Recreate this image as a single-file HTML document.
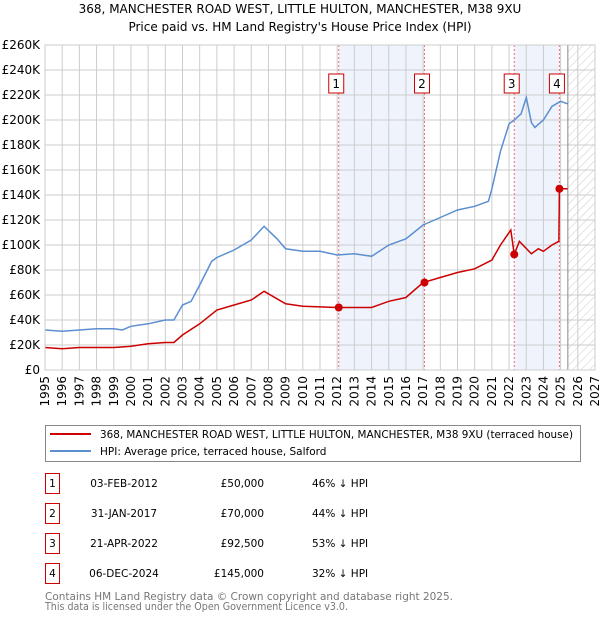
<!DOCTYPE html>
<html><head><meta charset="utf-8"><style>
body{margin:0;background:#fff;font-family:"DejaVu Sans","Liberation Sans",sans-serif;}
#wrap{position:relative;width:600px;height:620px;overflow:hidden}
</style></head><body><div id="wrap">
<svg id="chart" width="600" height="620" style="position:absolute;left:0;top:0" font-family="DejaVu Sans, Liberation Sans, sans-serif"></svg>
</div>
<script>
const hpiYears=[1995,1996,1997,1998,1999,1999.5,2000,2001,2002,2002.5,2003,2003.5,2004,2004.7,2005,2006,2007,2007.75,2008.5,2009,2010,2011,2012,2013,2014,2015,2016,2017,2018,2019,2020,2020.8,2021,2021.5,2022,2022.3,2022.7,2023,2023.3,2023.5,2024,2024.5,2025,2025.4];
const hpiValues=[32,31,32,33,33,32,35,37,40,40,52,55,68,87,90,96,104,115,105,97,95,95,92,93,91,100,105,116,122,128,131,135,145,175,197,200,205,218,198,194,200,211,215,213];
const ppYears=[1995,1996,1997,1999,2000,2001,2002,2002.5,2003,2004,2005,2006,2007,2007.75,2009,2010,2012,2014,2015,2016,2017,2018,2019,2020,2021,2021.5,2022.1,2022.3,2022.6,2023.3,2023.7,2024,2024.5,2024.9,2024.93,2025.4];
const ppValues=[18,17,18,18,19,21,22,22,28,37,48,52,56,63,53,51,50,50,55,58,70,74,78,81,88,100,112,92.5,103,93,97,95,100,103,145,145];
const saleYears=[2012.09,2017.08,2022.3,2024.93];
const saleValues=[50,70,92.5,145];
const saleLabels=["1","2","3","4"];
const yTicks=[0,20,40,60,80,100,120,140,160,180,200,220,240,260];
const xTicks=[1995,1996,1997,1998,1999,2000,2001,2002,2003,2004,2005,2006,2007,2008,2009,2010,2011,2012,2013,2014,2015,2016,2017,2018,2019,2020,2021,2022,2023,2024,2025,2026,2027];
const x0=45,x1=595,y0=370,y1=45;
const X=v=>x0+(v-1995)/32*(x1-x0);
const Y=v=>y0-v/260*(y0-y1);
const svg=document.getElementById('chart');const NS='http://www.w3.org/2000/svg';
function mk(t,a,p){const e=document.createElementNS(NS,t);for(const k in a)e.setAttribute(k,a[k]);(p||svg).appendChild(e);return e;}
function txt(s,a){const e=mk('text',a);e.textContent=s;return e;}
let t=txt('368, MANCHESTER ROAD WEST, LITTLE HULTON, MANCHESTER, M38 9XU',{x:300,y:13,'text-anchor':'middle','font-size':12});

t=txt("Price paid vs. HM Land Registry's House Price Index (HPI)",{x:300,y:31,'text-anchor':'middle','font-size':12});

[[0,1],[2,3]].forEach(([a,b],i)=>{const r=mk('rect',{x:X(saleYears[a]),y:y1,width:X(saleYears[b])-X(saleYears[a]),height:y0-y1,fill:'#eef3fc'});
});
const defs=mk('defs',{});const pat=mk('pattern',{id:'h',width:6,height:6,patternUnits:'userSpaceOnUse',patternTransform:'rotate(45)'},defs);
mk('line',{x1:0,y1:0,x2:0,y2:6,stroke:'#ccc','stroke-width':1},pat);
const hx=X(2025.42);
let hr=mk('rect',{x:hx,y:y1,width:x1-hx,height:y0-y1,fill:'url(#h)'});

yTicks.forEach(v=>{mk('line',{x1:x0,x2:x1,y1:Y(v),y2:Y(v),stroke:'#ccc'});
const l=txt(v===0?'£0':'£'+v+'K',{x:40,y:Y(v)+4,'text-anchor':'end','font-size':12});
});
xTicks.forEach(v=>{mk('line',{x1:X(v),x2:X(v),y1:y1,y2:y0,stroke:'#ccc'});
const l=txt(String(v),{x:0,y:0,'font-size':12,'text-anchor':'end',transform:`translate(${X(v)+4},${y0+6}) rotate(-90)`});
});
mk('line',{x1:hx,x2:hx,y1:y1,y2:y0,stroke:'#888'});
saleYears.forEach((s,i)=>{const l=mk('line',{x1:X(s),x2:X(s),y1:y1,y2:y0,stroke:'#f07070','stroke-dasharray':'2,2'});

const g=mk('g',{});
mk('rect',{x:X(s)-10,y:74,width:15,height:19,fill:'#fff',stroke:'#c00'},g);
const tt=mk('text',{x:X(s)-2.5,y:88,'text-anchor':'middle','font-size':12},g);tt.textContent=saleLabels[i];});
function path(xs,vs){return xs.map((x,i)=>(i?'L':'M')+X(x).toFixed(1)+','+Y(vs[i]).toFixed(1)).join('');}
let p=mk('path',{d:path(hpiYears,hpiValues),fill:'none',stroke:'#5b8fd0','stroke-width':1.5});

p=mk('path',{d:path(ppYears,ppValues),fill:'none',stroke:'#cc0000','stroke-width':1.5});

saleYears.forEach((s,i)=>{const c=mk('circle',{cx:X(s),cy:Y(saleValues[i]),r:4,fill:'#cc0000'});
});
mk('rect',{x:x0,y:y1,width:x1-x0,height:y0-y1,fill:'none',stroke:'#ccc'});
const lg=mk('g',{});
mk('rect',{x:45.5,y:425.5,width:535,height:36,fill:'#fff',stroke:'#888'},lg);
mk('line',{x1:50,x2:91,y1:434,y2:434,stroke:'#cc0000','stroke-width':2},lg);
mk('line',{x1:50,x2:91,y1:451,y2:451,stroke:'#5b8fd0','stroke-width':2},lg);
let e=mk('text',{x:100,y:438,'font-size':10.5,textLength:473,lengthAdjust:'spacingAndGlyphs'},lg);e.textContent='368, MANCHESTER ROAD WEST, LITTLE HULTON, MANCHESTER, M38 9XU (terraced house)';
e=mk('text',{x:100,y:455,'font-size':10.5},lg);e.textContent='HPI: Average price, terraced house, Salford';
const dates=['03-FEB-2012','31-JAN-2017','21-APR-2022','06-DEC-2024'];
const prices=['£50,000','£70,000','£92,500','£145,000'];
const pcts=['46% ↓ HPI','44% ↓ HPI','53% ↓ HPI','32% ↓ HPI'];
dates.forEach((d,i)=>{const cy=483+i*30;const g=mk('g',{});
mk('rect',{x:45.5,y:cy-9.5,width:14,height:20,fill:'#fff',stroke:'#c00'},g);
let a=mk('text',{x:52.5,y:cy+4,'text-anchor':'middle','font-size':10.5},g);a.textContent=String(i+1);
a=mk('text',{x:124,y:cy+4,'text-anchor':'middle','font-size':10.5},g);a.textContent=d;
a=mk('text',{x:264,y:cy+4,'text-anchor':'end','font-size':10.5},g);a.textContent=prices[i];
a=mk('text',{x:312,y:cy+4,'font-size':10.5},g);a.textContent=pcts[i];});
e=txt('Contains HM Land Registry data © Crown copyright and database right 2025.',{x:45,y:600,'font-size':10.5,fill:'#777',textLength:408,lengthAdjust:'spacingAndGlyphs'});
e=txt('This data is licensed under the Open Government Licence v3.0.',{x:45,y:610,'font-size':10.5,fill:'#777',textLength:303,lengthAdjust:'spacingAndGlyphs'});
</script></body></html>
